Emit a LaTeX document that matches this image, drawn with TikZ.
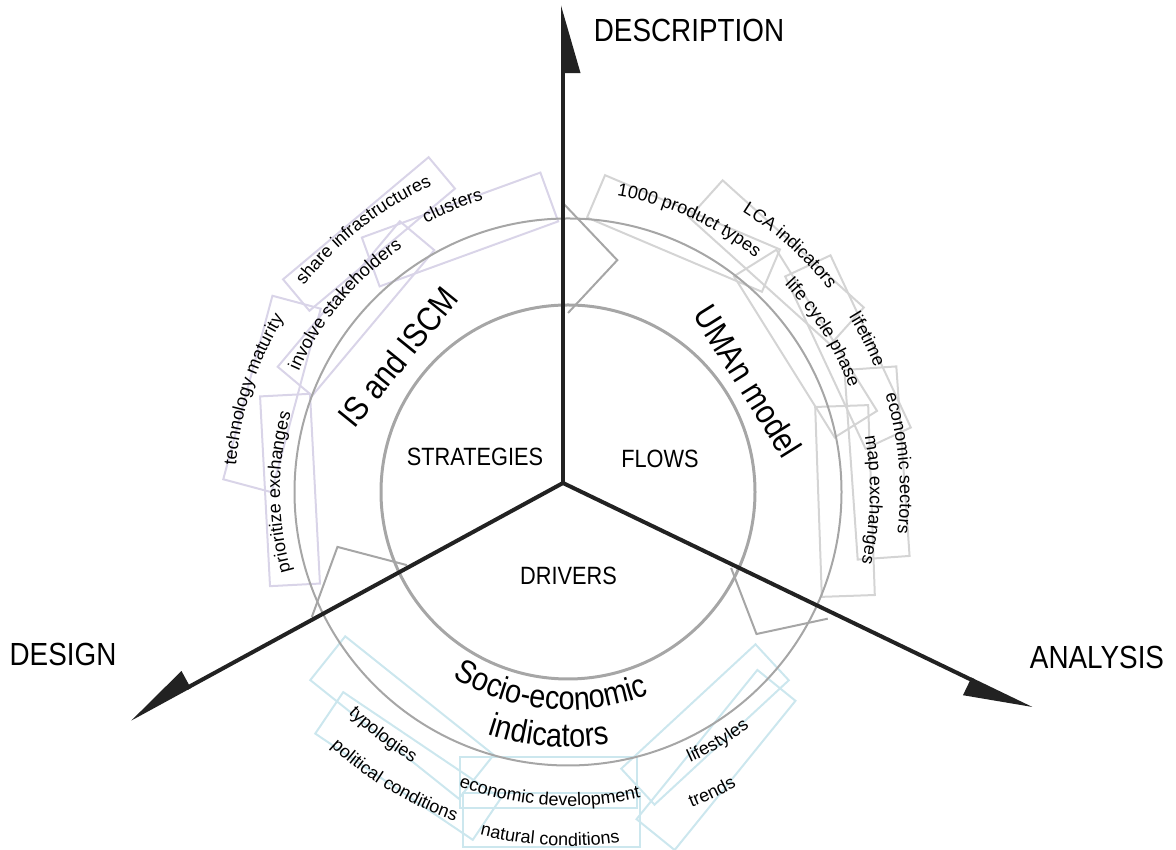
\documentclass[tikz,border=0pt]{standalone}
\usepackage{fontspec}
\setmainfont{Liberation Sans}
\newfontfamily\narrowfont[FakeStretch=0.87]{Liberation Sans}
\usetikzlibrary{arrows.meta,decorations.text}

\definecolor{axisdark}{HTML}{222222}
\definecolor{ringgray}{HTML}{A6A6A6}
\definecolor{boxlav}{RGB}{217,212,232}
\definecolor{boxgray}{RGB}{212,212,212}
\definecolor{boxcyan}{RGB}{204,231,238}

\newcommand{\lblfont}{\fontsize{18}{18}\selectfont}
% clockwise label, tops outward: mid angle, baseline radius, text
\newcommand{\cwlabel}[3]{%
  \path[decorate, decoration={text along path, text align=center, text={|\lblfont|#3}}, shift={(C)}]
    (#1+40:#2) arc[start angle=#1+40, end angle=#1-40, radius=#2];}
% counterclockwise label, tops inward
\newcommand{\ccwlabel}[3]{%
  \path[decorate, decoration={text along path, text align=center, text={|\lblfont|#3}}, shift={(C)}]
    (#1-40:#2) arc[start angle=#1-40, end angle=#1+40, radius=#2];}

\tikzset{
  mainaxis/.style={line width=4pt, draw=axisdark, fill=axisdark,
    -{Triangle[harpoon, swap, length=61pt, width=34pt]}},
  ring/.style={draw=ringgray, line width=2pt},
  chevron/.style={draw=ringgray, line width=2pt},
  lbox/.style={draw=#1, line width=2pt, minimum width=190pt, minimum height=50pt, inner sep=0pt},
  axislabel/.style={font=\narrowfont\fontsize{32}{32}\selectfont},
  sectorlabel/.style={font=\narrowfont\fontsize{25}{25}\selectfont},
  titlelabel/.style={font=\narrowfont\fontsize{34}{34}\selectfont}
}

\begin{document}
\begin{tikzpicture}[x=1pt,y=1pt]
  \useasboundingbox (0,0) rectangle (1176,850);
  \coordinate (C) at (568,358);
  \coordinate (O) at (563,367);
  \coordinate (tipDesc) at (563,845);
  \coordinate (tipDesign) at (130,131);
  \coordinate (tipAnalysis) at (1032,141);

  % Boxes of the strategies
  \node[lbox=boxlav, rotate=40, minimum height=41pt] (bShare) at (369,616) {};
  \node[lbox=boxlav, rotate=20, minimum height=52pt] (bClusters) at (460,620.5) {};
  \node[lbox=boxlav, rotate=50, minimum height=45pt] (bInvolve) at (356,541.5) {};
  \node[lbox=boxlav, rotate=75] (bTech) at (272,456) {};
  \node[lbox=boxlav, rotate=93] (bPrior) at (290,360) {};

  % Boxes of the flows
  \node[lbox=boxgray, rotate=-23, minimum height=46pt] (bProduct) at (683.5,616.5) {};
  \node[lbox=boxgray, rotate=-42] (bLCA) at (776.5,587.5) {};
  \node[lbox=boxgray, rotate=-58] (bPhase) at (805.5,506.4) {};
  \node[lbox=boxgray, rotate=-65] (bLifetime) at (848,498) {};
  \node[lbox=boxgray, rotate=-86, minimum height=52pt] (bSectors) at (877,387) {};
  \node[lbox=boxgray, rotate=-88, minimum height=53pt] (bMap) at (845,349) {};

  % Boxes of the drivers
  \node[lbox=boxcyan, rotate=-38.6, minimum height=56pt] (bTypo) at (402,132.5) {};
  \node[lbox=boxcyan, rotate=-34] (bPolitical) at (408,84) {};
  \node[lbox=boxcyan, minimum width=177pt, minimum height=51pt] (bDevelop) at (548.5,67.5) {};
  \node[lbox=boxcyan, minimum width=177pt, minimum height=54pt] (bNatural) at (551.5,30) {};
  \node[lbox=boxcyan, rotate=42.8, minimum width=183pt, minimum height=49pt] (bLifestyles) at (705,125.5) {};
  \node[lbox=boxcyan, rotate=51, minimum width=192pt, minimum height=49pt] (bTrends) at (716,90) {};

  % Rings and cycle arrow heads
  \draw[ring] (C) circle[radius=273.5];
  \draw[ring, line width=3pt] (C) circle[radius=187];
  \draw[chevron, shift={(C)}] (91:289) -- (78:237) -- (90:179);
  \draw[chevron, shift={(C)}] (334:289) -- (323:236) -- (335:180);
  \draw[chevron, shift={(C)}] (206:285) -- (193.4:237) -- (204.4:177);

  % Axes
  \draw[mainaxis] (O) -- (tipDesc);
  \draw[mainaxis] (O) -- (tipDesign);
  \draw[mainaxis] (O) -- (tipAnalysis);
  \node[axislabel] (lDesc) at (689,820) {DESCRIPTION};
  \node[axislabel] (lDesign) at (63,196) {DESIGN};
  \node[axislabel] (lAnalysis) at (1097,193) {ANALYSIS};

  % Sectors
  \node[sectorlabel] (sStrat) at (475,393) {STRATEGIES};
  \node[sectorlabel] (sFlows) at (660,391) {FLOWS};
  \node[sectorlabel] (sDrivers) at (568.5,274) {DRIVERS};
  \node[titlelabel, rotate=51] (tIS) at (398,493) {IS and ISCM};
  \node[titlelabel, rotate=-58] (tUMAn) at (748,469) {UMAn model};
  \path[decorate, decoration={text along path, text align=center,
    text={|\narrowfont\fontsize{33}{33}\selectfont|Socio-economic}}, shift={(C)}]
    (225:218) arc[start angle=225, end angle=305, radius=218];
  \path[decorate, decoration={text along path, text align=center,
    text={|\narrowfont\fontsize{33}{33}\selectfont|indicators}}, shift={(C)}]
    (225.5:255) arc[start angle=225.5, end angle=305.5, radius=255];

  % Labels
  \cwlabel{128}{335}{share infrastructures}
  \cwlabel{112}{304}{clusters}
  \cwlabel{140}{295}{involve stakeholders}
  \cwlabel{162}{333}{technology maturity}
  \cwlabel{180}{288}{prioritize exchanges}
  \cwlabel{66}{300}{1000 product types}
  \cwlabel{48}{330}{LCA indicators}
  \cwlabel{32}{300}{life cycle phase}
  \cwlabel{27}{331}{lifetime}
  \cwlabel{5}{332}{economic sectors}
  \cwlabel{-1.5}{302}{map exchanges}
  \ccwlabel{232.7}{312}{typologies}
  \ccwlabel{239}{348}{political conditions}
  \ccwlabel{266.5}{314}{economic development}
  \ccwlabel{267}{354}{natural conditions}
  \ccwlabel{301}{297}{lifestyles}
  \ccwlabel{295.6}{339}{trends}
\end{tikzpicture}
\end{document}
